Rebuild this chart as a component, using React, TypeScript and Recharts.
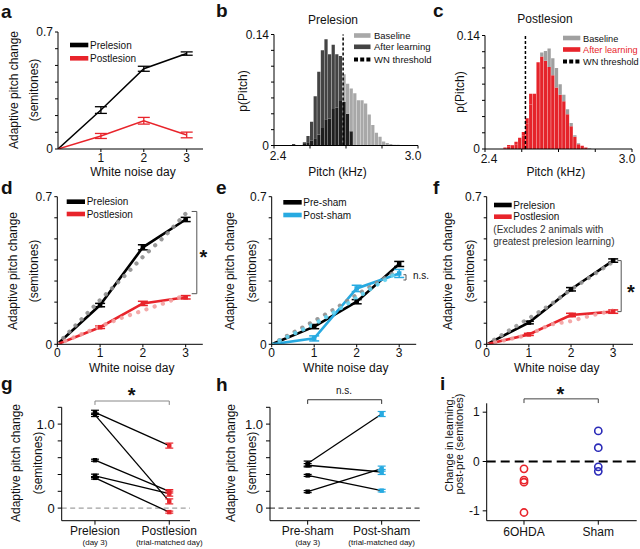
import React from 'react';
import { ComposedChart, BarChart, Bar, Line, Scatter, XAxis, YAxis, ErrorBar, ReferenceLine } from 'recharts';

const W = 640;
const H = 549;
const FONT = '"Liberation Sans", Arial, Helvetica, sans-serif';
const INK = '#111';
const RED = '#e8242b';
const PINK = '#f3a0a0';
const GRAYDOT = '#8e8e8e';
const BLUE = '#27aae1';
const CYAN = '#62d3f2';
const NAVY = '#2b2bb8';

// ---------------- data ----------------
const days = [0, 1, 2, 3];
const fitDays = [0, 1, 1.5, 2, 2.5, 3];

// a
const aPre = [0, 0.233, 0.48, 0.571];
const aPreErr = [0, 0.02, 0.015, 0.01];
const aPost = [0, 0.078, 0.169, 0.084];
const aPostErr = [0, 0.015, 0.02, 0.017];

// b, c histograms (bin centres, kHz; bin width 0.015)
const binCenters = [2.4075,2.4225,2.4375,2.4525,2.4675,2.4825,2.4975,2.5125,2.5275,2.5425,2.5575,2.5725,2.5875,2.6025,2.6175,2.6325,2.6475,2.6625,2.6775,2.6925,2.7075,2.7225,2.7375,2.7525,2.7675,2.7825,2.7975,2.8125,2.8275,2.8425,2.8575,2.8725,2.8875,2.9025,2.9175,2.9325,2.9475,2.9625,2.9775,2.9925];
const bBaseline = [0,0,0,0,0,0,0,0,0.002,0.004,0.006,0.009,0.014,0.022,0.033,0.034,0.046,0.048,0.056,0.090,0.078,0.072,0.066,0.057,0.057,0.053,0.039,0.026,0.016,0.011,0.005,0.003,0.002,0.001,0.001,0,0,0,0,0];
const bAfter = [0,0,0,0,0,0.002,0,0,0.004,0.012,0.030,0.062,0.093,0.120,0.134,0.115,0.127,0.115,0.113,0.055,0.040,0.018,0,0,0,0,0,0,0,0,0,0,0,0,0,0,0,0,0,0];
const bThreshold = 2.688;
const cBaseline = [0,0,0,0,0,0.001,0.003,0.004,0.006,0.011,0.017,0.031,0.055,0.064,0.100,0.119,0.121,0.124,0.112,0.100,0.080,0.067,0.049,0.032,0.017,0.007,0.004,0.002,0.001,0,0,0,0,0,0,0,0,0,0,0];
const cAfter = [0,0,0,0,0,0.002,0.005,0.005,0.009,0.014,0.021,0.038,0.068,0.068,0.107,0.114,0.109,0.101,0.091,0.076,0.067,0.059,0.043,0.028,0.015,0.006,0.004,0.002,0,0,0,0,0,0,0,0,0,0,0,0];
const cThreshold = 2.565;

// d
const dPre = [0, 0.186, 0.46, 0.592];
const dPreErr = [0, 0.008, 0.012, 0.01];
const dPost = [0, 0.081, 0.194, 0.223];
const dPostErr = [0, 0.006, 0.01, 0.008];
const dPreFit = [0, 0.21, 0.31, 0.415, 0.51, 0.62];
const dPostFit = [0, 0.085, 0.125, 0.16, 0.195, 0.235];

// e
const ePre = [0, 0.084, 0.202, 0.381];
const ePreErr = [0, 0.01, 0.01, 0.012];
const ePost = [0, 0.028, 0.265, 0.336];
const ePostErr = [0, 0.012, 0.015, 0.019];
const ePreFit = [0, 0.11, 0.17, 0.235, 0.295, 0.355];
const ePostFit = [0, 0.095, 0.155, 0.22, 0.285, 0.345];

// f
const fPre = [0, 0.103, 0.261, 0.397];
const fPreErr = [0, 0.006, 0.008, 0.008];
const fPost = [0, 0.047, 0.139, 0.155];
const fPostErr = [0, 0.005, 0.008, 0.008];
const fPreFit = [0, 0.123, 0.186, 0.26, 0.325, 0.392];
const fPostFit = [0, 0.045, 0.093, 0.11, 0.138, 0.16];

// g
const gCats = ['Prelesion', 'Postlesion'];
const gSubs = ['(day 3)', '(trial-matched day)'];
const gPre = [1.14, 1.11, 0.57, 0.384, 0.36];
const gPreErr = [0.025, 0.02, 0.012, 0.02, 0.015];
const gPost = [0.744, 0.08, 0.2, 0.172, -0.048];
const gPostErr = [0.03, 0.03, 0.02, 0.03, 0.012];

// h
const hCats = ['Pre-sham', 'Post-sham'];
const hSubs = ['(day 3)', '(trial-matched day)'];
const hPre = [0.53, 0.51, 0.389, 0.196];
const hPreErr = [0.03, 0.02, 0.012, 0.012];
const hPost = [1.12, 0.43, 0.208, 0.47];
const hPostErr = [0.03, 0.03, 0.015, 0.03];

// i
const iCats = ['6OHDA', 'Sham'];
const iLesion = [-0.149, -0.378, -0.42, -1.034];
const iSham = [0.62, 0.28, -0.108, -0.2];

// ---------------- helpers ----------------
function mg(x0: number, y0: number, x1: number, y1: number) {
  return { left: x0 - 40, top: y0, right: W - x1, bottom: H - y1 - 30 };
}
function series(xs: number[], vs: number[], es?: number[]) {
  return xs.map((x, i) => ({ x, v: vs[i], e: es ? es[i] : 0 }));
}
const lbl = (m: Record<string, string>) => (v: number) => (m[String(v)] !== undefined ? m[String(v)] : '');
const sq = (color: string, s: number) => (p: any) => {
  if (p.payload && p.payload.x === 0 && p.payload.e === 0) return <g key={`k${p.index}`} />;
  return <rect key={`k${p.index}`} x={p.cx - s / 2} y={p.cy - s / 2} width={s} height={s} fill={color} />;
};
const axisStyle = { stroke: '#000', strokeWidth: 1 };
const tickStyle = (fs: number) => ({ fontSize: fs, fill: INK });
const y07 = [0, 0.1, 0.2, 0.3, 0.4, 0.5, 0.6, 0.7];

const Layer = ({ children }: { children: React.ReactNode }) => (
  <div style={{ position: 'absolute', left: 0, top: 0 }}>{children}</div>
);

function CatTick(props: any) {
  const { x, y, payload, names, subs } = props;
  const i = payload.value;
  return (
    <g>
      <text x={x} y={y + 9.5} textAnchor="middle" fontSize={12} fill={INK}>{names[i]}</text>
      <text x={x} y={y + 19} textAnchor="middle" fontSize={8} fill={INK}>{subs[i]}</text>
    </g>
  );
}

function HistTick(props: any) {
  const { x, y, payload } = props;
  const t = lbl({ '2.4': '2.4', '3': '3.0' })(payload.value);
  const dx = payload.value === 3 ? -5 : 4;
  return <text x={x + dx} y={y + 9} textAnchor="middle" fontSize={12} fill={INK}>{t}</text>;
}

// learning-curve panel (d, e, f)
function CurvePanel(props: {
  box: [number, number, number, number];
  xmax: number;
  pre: number[]; preErr: number[]; post: number[]; postErr: number[];
  preFit: number[]; postFit: number[];
  preColor: string; postColor: string; preFitColor: string; postFitColor: string;
  bracket: { x: number; x0: number; y0: number; y1: number };
}) {
  const p = props;
  const [x0, y0, x1, y1] = p.box;
  const b = p.bracket;
  return (
    <ComposedChart width={W} height={H} margin={mg(x0, y0, x1, y1)}>
      <XAxis type="number" dataKey="x" domain={[0, p.xmax]} allowDataOverflow ticks={[0, 1, 2, 3]} height={30}
        axisLine={axisStyle} tickLine={axisStyle} tickSize={3} tickMargin={1} tick={tickStyle(12)} />
      <YAxis type="number" domain={[0, 0.7]} allowDataOverflow ticks={y07} width={40}
        tickFormatter={lbl({ '0': '0', '0.7': '0.7' })} axisLine={axisStyle} tickLine={axisStyle} tickSize={3} tickMargin={2} tick={tickStyle(12)} />
      <Line data={series(days, p.pre, p.preErr)} dataKey="v" stroke={p.preColor} strokeWidth={2.6} dot={sq(p.preColor, 4.5)} isAnimationActive={false}>
        <ErrorBar dataKey="e" direction="y" width={5} stroke={p.preColor} strokeWidth={1.5} />
      </Line>
      <Line data={series(days, p.post, p.postErr)} dataKey="v" stroke={p.postColor} strokeWidth={2.6} dot={sq(p.postColor, 4.5)} isAnimationActive={false}>
        <ErrorBar dataKey="e" direction="y" width={5} stroke={p.postColor} strokeWidth={1.5} />
      </Line>
      <Line data={series(fitDays, p.preFit)} dataKey="v" stroke={p.preFitColor} strokeWidth={4.2} strokeDasharray="0.1 8.6" strokeLinecap="round" strokeOpacity={0.9} dot={false} isAnimationActive={false} />
      <Line data={series(fitDays, p.postFit)} dataKey="v" stroke={p.postFitColor} strokeWidth={4.2} strokeDasharray="0.1 8.6" strokeLinecap="round" strokeOpacity={0.9} dot={false} isAnimationActive={false} />
      <ReferenceLine segment={[{ x: b.x, y: b.y0 }, { x: b.x, y: b.y1 }]} stroke="#555" strokeWidth={1} ifOverflow="visible" />
      <ReferenceLine segment={[{ x: b.x0, y: b.y0 }, { x: b.x, y: b.y0 }]} stroke="#555" strokeWidth={1} ifOverflow="visible" />
      <ReferenceLine segment={[{ x: b.x0, y: b.y1 }, { x: b.x, y: b.y1 }]} stroke="#555" strokeWidth={1} ifOverflow="visible" />
    </ComposedChart>
  );
}

// overlapping histograms drawn as stacked layers: shared part, after-only part, baseline-only part
function HistPanel(props: { box: [number, number, number, number]; base: number[]; after: number[]; baseColor: string; afterColor: string; bothColor: string; threshold: number }) {
  const p = props;
  const [x0, y0, x1, y1] = p.box;
  const bw = (x1 - x0) / binCenters.length;
  const data = binCenters.map((c, i) => {
    const lo = Math.min(p.base[i], p.after[i]);
    return { c, both: lo, afterOnly: p.after[i] - lo, baseOnly: p.base[i] - lo };
  });
  return (
    <BarChart width={W} height={H} data={data} margin={mg(x0, y0, x1, y1)} barCategoryGap={0} barGap={0}>
      <XAxis type="number" dataKey="c" domain={[2.4, 3.0]} allowDataOverflow ticks={[2.4, 2.55, 2.7, 2.85, 3.0]} height={30}
        axisLine={axisStyle} tickLine={axisStyle} tickSize={3} tickMargin={2} tick={(tp: any) => <HistTick {...tp} />} />
      <YAxis type="number" domain={[0, 0.14]} allowDataOverflow ticks={[0, 0.02, 0.04, 0.06, 0.08, 0.1, 0.12, 0.14]} width={40}
        tickFormatter={lbl({ '0': '0', '0.14': '0.14' })} axisLine={axisStyle} tickLine={axisStyle} tickSize={3} tickMargin={2} tick={tickStyle(12)} />
      <Bar dataKey="both" stackId="h" fill={p.bothColor} barSize={bw} isAnimationActive={false} />
      <Bar dataKey="afterOnly" stackId="h" fill={p.afterColor} barSize={bw} isAnimationActive={false} />
      <Bar dataKey="baseOnly" stackId="h" fill={p.baseColor} barSize={bw} isAnimationActive={false} />
      <ReferenceLine x={p.threshold} stroke="#000" strokeWidth={1.5} strokeDasharray="3 2" />
    </BarChart>
  );
}

function PairPanel(props: {
  box: [number, number, number, number]; xdom: [number, number];
  pre: number[]; preErr: number[]; post: number[]; postErr: number[];
  postColor: string; names: string[]; subs: string[]; zeroColor: string; bracketColor: string; bracketY: number; bracketY2: number;
}) {
  const p = props;
  const [x0, y0, x1, y1] = p.box;
  const preData = p.pre.map((v, i) => ({ x: 0, v, e: p.preErr[i] }));
  const postData = p.post.map((v, i) => ({ x: 1, v, e: p.postErr[i] }));
  return (
    <ComposedChart width={W} height={H} margin={mg(x0, y0, x1, y1)}>
      <XAxis type="number" dataKey="x" domain={p.xdom} allowDataOverflow ticks={[0, 1]} height={30}
        axisLine={axisStyle} tickLine={axisStyle} tickSize={4} tickMargin={1}
        tick={(tp: any) => <CatTick {...tp} names={p.names} subs={p.subs} />} />
      <YAxis type="number" domain={[-0.15, 1.2]} allowDataOverflow ticks={[0, 0.2, 0.4, 0.6, 0.8, 1.0, 1.2]} width={40}
        tickFormatter={lbl({ '0': '0', '1': '1.0' })} axisLine={axisStyle} tickLine={axisStyle} tickSize={4} tickMargin={3} tick={tickStyle(13)} />
      <ReferenceLine y={0} stroke={p.zeroColor} strokeWidth={1} strokeDasharray="5 3.5" />
      {p.pre.map((v, i) => (
        <Line key={`l${i}`} data={[{ x: 0, v }, { x: 1, v: p.post[i] }]} dataKey="v" stroke="#000" strokeWidth={1.3} dot={false} isAnimationActive={false} />
      ))}
      <Scatter data={preData} dataKey="v" isAnimationActive={false}
        shape={(sp: any) => <rect x={sp.cx - 2.2} y={sp.cy - 2.2} width={4.4} height={4.4} fill="#000" />}>
        <ErrorBar dataKey="e" direction="y" width={4} stroke="#000" strokeWidth={1.2} />
      </Scatter>
      <Scatter data={postData} dataKey="v" isAnimationActive={false}
        shape={(sp: any) => <rect x={sp.cx - 2.2} y={sp.cy - 2.2} width={4.4} height={4.4} fill={p.postColor} />}>
        <ErrorBar dataKey="e" direction="y" width={4} stroke={p.postColor} strokeWidth={1.2} />
      </Scatter>
      <ReferenceLine segment={[{ x: 0, y: p.bracketY }, { x: 1, y: p.bracketY }]} stroke={p.bracketColor} ifOverflow="visible" />
      <ReferenceLine segment={[{ x: 0, y: p.bracketY }, { x: 0, y: p.bracketY2 }]} stroke={p.bracketColor} ifOverflow="visible" />
      <ReferenceLine segment={[{ x: 1, y: p.bracketY }, { x: 1, y: p.bracketY2 }]} stroke={p.bracketColor} ifOverflow="visible" />
    </ComposedChart>
  );
}

const T = (p: { x: number; y: number; s?: number; a?: 'start' | 'middle' | 'end'; w?: string; c?: string; children: React.ReactNode }) => (
  <text x={p.x} y={p.y} fontSize={p.s ?? 12} textAnchor={p.a ?? 'start'} fontWeight={p.w ?? 'normal'} fill={p.c ?? INK}>{p.children}</text>
);
const RT = (p: { x: number; y: number; s?: number; children: React.ReactNode }) => (
  <text transform={`translate(${p.x},${p.y}) rotate(-90)`} textAnchor="middle" fontSize={p.s ?? 12} fill={INK}>{p.children}</text>
);
const Sw = (p: { x: number; y: number; w: number; c: string }) => <rect x={p.x} y={p.y - 2.3} width={p.w} height={4.6} fill={p.c} />;

export default function App() {
  return (
    <div style={{ position: 'absolute', left: 0, top: 0, width: W, height: H, background: '#fff', fontFamily: FONT, overflow: 'hidden' }}>
      {/* a */}
      <Layer>
        <ComposedChart width={W} height={H} margin={mg(58, 32, 203, 149)}>
          <XAxis type="number" dataKey="x" domain={[0, 3.38]} allowDataOverflow ticks={[1, 2, 3]} height={30}
            axisLine={axisStyle} tickLine={axisStyle} tickSize={3} tickMargin={1} tick={tickStyle(12)} />
          <YAxis type="number" domain={[0, 0.7]} allowDataOverflow ticks={y07} width={40}
            tickFormatter={lbl({ '0': '0', '0.7': '0.7' })} axisLine={axisStyle} tickLine={axisStyle} tickSize={3} tickMargin={2} tick={tickStyle(12)} />
          <Line data={series(days, aPre, aPreErr)} dataKey="v" stroke="#000" strokeWidth={1.5} dot={false} isAnimationActive={false}>
            <ErrorBar dataKey="e" direction="y" width={6} stroke="#000" strokeWidth={1.3} />
          </Line>
          <Line data={series(days, aPost, aPostErr)} dataKey="v" stroke={RED} strokeWidth={1.5} dot={false} isAnimationActive={false}>
            <ErrorBar dataKey="e" direction="y" width={6} stroke={RED} strokeWidth={1.3} />
          </Line>
        </ComposedChart>
      </Layer>
      {/* b */}
      <Layer>
        <HistPanel box={[274, 34.5, 418, 145.5]} base={bBaseline} after={bAfter} baseColor="#a8a8a8" afterColor="#444" bothColor="#1e1e1e" threshold={bThreshold} />
      </Layer>
      {/* c */}
      <Layer>
        <HistPanel box={[485, 35.5, 632, 149]} base={cBaseline} after={cAfter} baseColor="#a0a0a0" afterColor={RED} bothColor="#e5232a" threshold={cThreshold} />
      </Layer>
      {/* d */}
      <Layer>
        <CurvePanel box={[57.3, 196.7, 202.8, 344.3]} xmax={3.4} pre={dPre} preErr={dPreErr} post={dPost} postErr={dPostErr}
          preFit={dPreFit} postFit={dPostFit} preColor="#000" postColor={RED} preFitColor={GRAYDOT} postFitColor={PINK}
          bracket={{ x: 3.26, x0: 3.14, y0: 0.24, y1: 0.63 }} />
      </Layer>
      {/* e */}
      <Layer>
        <CurvePanel box={[271.7, 196.7, 416.2, 344.3]} xmax={3.4} pre={ePre} preErr={ePreErr} post={ePost} postErr={ePostErr}
          preFit={ePreFit} postFit={ePostFit} preColor="#000" postColor={BLUE} preFitColor={GRAYDOT} postFitColor={CYAN}
          bracket={{ x: 3.16, x0: 3.1, y0: 0.305, y1: 0.33 }} />
      </Layer>
      {/* f */}
      <Layer>
        <CurvePanel box={[486.7, 196.7, 633, 344.3]} xmax={3.47} pre={fPre} preErr={fPreErr} post={fPost} postErr={fPostErr}
          preFit={fPreFit} postFit={fPostFit} preColor="#000" postColor={RED} preFitColor="#999" postFitColor={PINK}
          bracket={{ x: 3.19, x0: 3.1, y0: 0.155, y1: 0.397 }} />
      </Layer>
      {/* g */}
      <Layer>
        <PairPanel box={[61.7, 407.3, 190, 520.7]} xdom={[-0.448, 1.279]} pre={gPre} preErr={gPreErr} post={gPost} postErr={gPostErr}
          postColor={RED} names={gCats} subs={gSubs} zeroColor="#888" bracketColor="#888" bracketY={1.275} bracketY2={1.228} />
      </Layer>
      {/* h */}
      <Layer>
        <PairPanel box={[270, 407.3, 420, 520.7]} xdom={[-0.509, 1.518]} pre={hPre} preErr={hPreErr} post={hPost} postErr={hPostErr}
          postColor={BLUE} names={hCats} subs={hSubs} zeroColor="#222" bracketColor="#333" bracketY={1.29} bracketY2={1.24} />
      </Layer>
      {/* i */}
      <Layer>
        <ComposedChart width={W} height={H} margin={mg(486.7, 403.3, 636.7, 520.7)}>
          <XAxis type="number" dataKey="x" domain={[-0.502, 1.517]} allowDataOverflow ticks={[0, 1]} height={30}
            tickFormatter={(v: number) => iCats[v]} axisLine={axisStyle} tickLine={axisStyle} tickSize={4} tickMargin={3} tick={tickStyle(12)} />
          <YAxis type="number" domain={[-1.2, 1.18]} allowDataOverflow ticks={[-1, 0, 1]} width={40}
            axisLine={axisStyle} tickLine={axisStyle} tickSize={4} tickMargin={3} tick={tickStyle(12)} />
          <ReferenceLine y={0} stroke="#000" strokeWidth={1.8} strokeDasharray="9 5" />
          <Scatter data={iLesion.map((v) => ({ x: 0, v }))} dataKey="v" isAnimationActive={false}
            shape={(sp: any) => <circle cx={sp.cx} cy={sp.cy} r={3.6} fill="none" stroke={RED} strokeWidth={1.6} />} />
          <Scatter data={iSham.map((v) => ({ x: 1, v }))} dataKey="v" isAnimationActive={false}
            shape={(sp: any) => <circle cx={sp.cx} cy={sp.cy} r={3.6} fill="none" stroke={NAVY} strokeWidth={1.6} />} />
          <ReferenceLine segment={[{ x: 0, y: 1.27 }, { x: 1, y: 1.27 }]} stroke="#444" ifOverflow="visible" />
          <ReferenceLine segment={[{ x: 0, y: 1.27 }, { x: 0, y: 1.185 }]} stroke="#444" ifOverflow="visible" />
          <ReferenceLine segment={[{ x: 1, y: 1.27 }, { x: 1, y: 1.185 }]} stroke="#444" ifOverflow="visible" />
        </ComposedChart>
      </Layer>

      {/* text overlay */}
      <svg width={W} height={H} style={{ position: 'absolute', left: 0, top: 0, pointerEvents: 'none' }}>
        {/* panel letters */}
        <T x={1} y={18} s={19} w="bold">a</T>
        <T x={216} y={17} s={19} w="bold">b</T>
        <T x={433} y={17} s={19} w="bold">c</T>
        <T x={1} y={194} s={19} w="bold">d</T>
        <T x={216} y={194} s={19} w="bold">e</T>
        <T x={433} y={194} s={19} w="bold">f</T>
        <T x={1} y={390} s={19} w="bold">g</T>
        <T x={216} y={391} s={19} w="bold">h</T>
        <T x={440} y={390} s={19} w="bold">i</T>

        {/* titles */}
        <T x={333} y={23.6} a="middle">Prelesion</T>
        <T x={545} y={23} a="middle">Postlesion</T>

        {/* y titles */}
        <RT x={17.5} y={90}>Adaptive pitch change</RT>
        <RT x={37.5} y={90}>(semitones)</RT>
        <RT x={247} y={91}>p(Pitch)</RT>
        <RT x={464} y={92}>p(Pitch)</RT>
        <RT x={16.5} y={271}>Adaptive pitch change</RT>
        <RT x={37.5} y={271}>(semitones)</RT>
        <RT x={233.5} y={271}>Adaptive pitch change</RT>
        <RT x={255.5} y={271}>(semitones)</RT>
        <RT x={452} y={271}>Adaptive pitch change</RT>
        <RT x={474} y={271}>(semitones)</RT>
        <RT x={20.3} y={463}>Adaptive pitch change</RT>
        <RT x={42} y={463}>(semitones)</RT>
        <RT x={235.3} y={463}>Adaptive pitch change</RT>
        <RT x={255.5} y={463}>(semitones)</RT>
        <RT x={452.8} y={444} s={11}>Change in learning,</RT>
        <RT x={463.3} y={444} s={11}>post-pre (semitones)</RT>

        {/* x titles */}
        <T x={133} y={175.5} a="middle">White noise day</T>
        <T x={337.5} y={176} a="middle">Pitch (kHz)</T>
        <T x={555.8} y={176} a="middle">Pitch (kHz)</T>
        <T x={131.7} y={372} a="middle">White noise day</T>
        <T x={345.8} y={372} a="middle">White noise day</T>
        <T x={556.7} y={372} a="middle">White noise day</T>

        {/* legend a */}
        <Sw x={70} y={45} w={18.3} c="#000" />
        <T x={90} y={48.9} s={10}>Prelesion</T>
        <Sw x={70} y={58.3} w={18.3} c={RED} />
        <T x={90} y={62.2} s={10}>Postlesion</T>

        {/* legend b */}
        <Sw x={354} y={35.5} w={16.5} c="#a8a8a8" />
        <T x={374} y={39} s={9.5}>Baseline</T>
        <Sw x={354} y={46.8} w={16.5} c="#444" />
        <T x={374} y={50.3} s={9.5}>After learning</T>
        <line x1={354} x2={370.5} y1={59.6} y2={59.6} stroke="#000" strokeWidth={4} strokeDasharray="4 2.2" />
        <T x={374} y={63} s={9.5}>WN threshold</T>

        {/* legend c */}
        <Sw x={563} y={38} w={17.3} c="#a0a0a0" />
        <T x={583} y={41.5} s={9.2}>Baseline</T>
        <Sw x={563} y={49.5} w={17.3} c={RED} />
        <T x={583} y={53} s={9.2} c={RED}>After learning</T>
        <line x1={563} x2={580.3} y1={61.5} y2={61.5} stroke="#000" strokeWidth={4} strokeDasharray="4 2.2" />
        <T x={583} y={65} s={9.2}>WN threshold</T>

        {/* legend d */}
        <Sw x={66.7} y={201.7} w={18.3} c="#000" />
        <T x={86.7} y={204.8} s={10}>Prelesion</T>
        <Sw x={66.7} y={214} w={18.3} c={RED} />
        <T x={86.7} y={217.5} s={10}>Postlesion</T>

        {/* legend e */}
        <Sw x={283.3} y={202.3} w={18.4} c="#000" />
        <T x={303.3} y={205.6} s={10}>Pre-sham</T>
        <Sw x={283.3} y={215} w={18.4} c={BLUE} />
        <T x={303.3} y={218.5} s={10}>Post-sham</T>

        {/* legend f */}
        <Sw x={494} y={205} w={17.7} c="#000" />
        <T x={513.3} y={208.5} s={10}>Prelesion</T>
        <Sw x={494} y={216.7} w={17.7} c={RED} />
        <T x={513.3} y={220.2} s={10}>Postlesion</T>
        <T x={493.3} y={233} s={10} c="#333">(Excludes 2 animals with</T>
        <T x={493.3} y={245} s={10} c="#333">greatest prelesion learning)</T>

        {/* significance */}
        <T x={203.3} y={264.3} s={20} a="middle" w="bold">*</T>
        <T x={630.8} y={299.3} s={20} a="middle" w="bold">*</T>
        <T x={131.7} y={402.3} s={20} a="middle" w="bold">*</T>
        <T x={560.3} y={401} s={20} a="middle" w="bold">*</T>
        <T x={413} y={279} s={10}>n.s.</T>
        <T x={344} y={393.5} s={10} a="middle">n.s.</T>
      </svg>
    </div>
  );
}
